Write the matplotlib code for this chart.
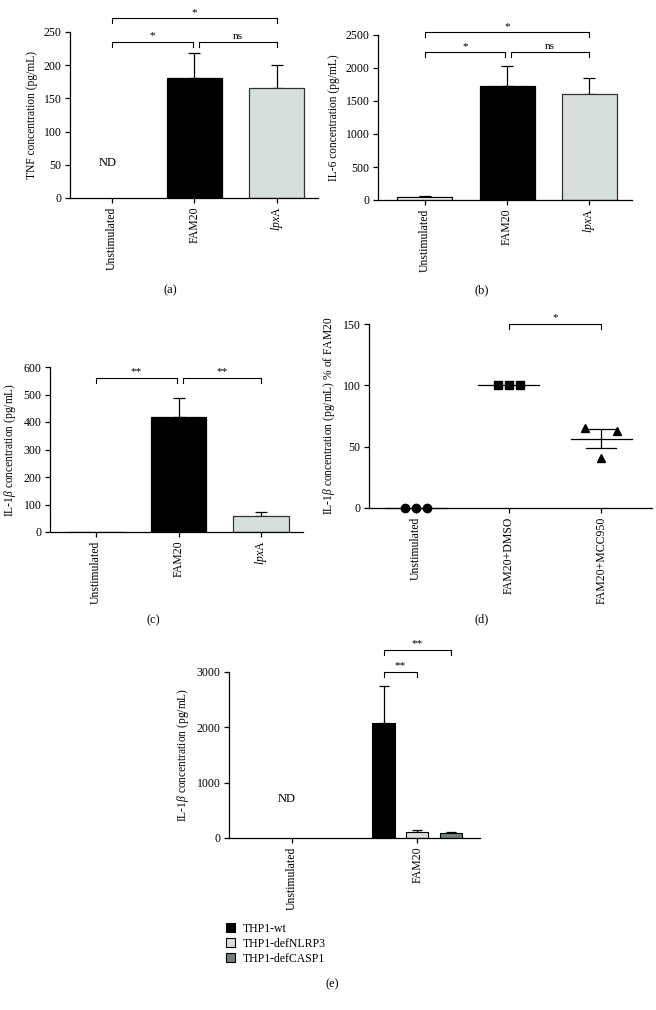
import matplotlib
matplotlib.use("Agg")
import matplotlib.pyplot as plt
from matplotlib.patches import Patch
import numpy as np

plt.rcParams['font.family'] = ['Liberation Serif', 'DejaVu Serif']
plt.rcParams['mathtext.fontset'] = 'custom'
plt.rcParams['mathtext.rm'] = 'Liberation Serif'
plt.rcParams['mathtext.it'] = 'Liberation Serif:italic'
plt.rcParams['font.size'] = 8.5
plt.rcParams['axes.linewidth'] = 0.9
plt.rcParams['xtick.major.width'] = 0.9
plt.rcParams['ytick.major.width'] = 0.9
plt.rcParams['xtick.major.size'] = 3.5
plt.rcParams['ytick.major.size'] = 3.5
plt.rcParams['xtick.major.pad'] = 2.5
plt.rcParams['ytick.major.pad'] = 2.5

# ---------------- data ----------------
cats_abc = ['Unstimulated', 'FAM20', r'$\mathit{lpx}$A']
tnf_mean = [0, 180, 165]
tnf_err = [0, 39, 36]
il6_mean = [50, 1730, 1610]
il6_err = [5, 305, 240]
il1b_mean = [1, 420, 60]
il1b_err = [0, 67, 13]

cats_d = ['Unstimulated', 'FAM20+DMSO', 'FAM20+MCC950']
d_unstim = [0, 0, 0]
d_dmso = [100, 100, 100]
d_mcc = [65, 63, 41]

cats_e = ['Unstimulated', 'FAM20']
e_series = ['THP1-wt', 'THP1-defNLRP3', 'THP1-defCASP1']
e_wt = [0, 2070]
e_wt_err = [0, 670]
e_nlrp3 = [0, 110]
e_nlrp3_err = [0, 40]
e_casp1 = [0, 90]
e_casp1_err = [0, 15]

BLACK = '#000000'
LIGHT = '#d6dfdc'
DARK = '#717f7a'

TICK_FS = 8.5
LABEL_FS = 8.3
W, H = 656, 1010
fig = plt.figure(figsize=(W / 100, H / 100), dpi=100)


def add_ax(l, r, t, b):
    ax = fig.add_axes([l / W, 1 - b / H, (r - l) / W, (b - t) / H])
    ax.spines['top'].set_visible(False)
    ax.spines['right'].set_visible(False)
    ax.tick_params(labelsize=TICK_FS)
    return ax


def bracket(ax, x1, x2, y, tick, text, fs=8):
    ax.plot([x1, x1, x2, x2], [y - tick, y, y, y - tick], color='black', lw=0.8,
            clip_on=False)
    ax.text((x1 + x2) / 2, y + tick * 0.3, text, ha='center', va='bottom',
            fontsize=fs, clip_on=False)


def bars3(ax, mean, err, colors, edges, width=0.67):
    x = np.arange(len(mean))
    for i in range(len(mean)):
        if mean[i] is None:
            continue
        if err[i] > 0:
            ax.errorbar(x[i], mean[i], yerr=[[0], [err[i]]], fmt='none',
                        ecolor='black', elinewidth=0.9, capsize=4.5, capthick=0.9,
                        zorder=1)
        ax.bar(x[i], mean[i], width=width, color=colors[i], edgecolor=edges[i],
               linewidth=0.9, zorder=2)
    return x


def style_cat(ax, labels):
    ax.set_xticks(np.arange(len(labels)))
    ax.set_xticklabels(labels, rotation=90, fontsize=TICK_FS)


# ---------------- (a) ----------------
ax = add_ax(70, 318, 32, 198)
bars3(ax, [None, tnf_mean[1], tnf_mean[2]], tnf_err, ['white', BLACK, LIGHT],
      ['black', 'black', '#333333'])
ax.set_xlim(-0.51, 2.5)
ax.set_ylim(0, 250)
ax.set_yticks([0, 50, 100, 150, 200, 250])
style_cat(ax, cats_abc)
ax.set_ylabel('TNF concentration (pg/mL)', fontsize=LABEL_FS)
ax.text(-0.05, 52, 'ND', ha='center', va='center', fontsize=9)
bracket(ax, 0, 0.98, 235, 7, '*')
bracket(ax, 1.05, 2, 235, 7, 'ns')
bracket(ax, 0, 2, 271, 7, '*')
fig.text(170 / W, 1 - 290 / H, '(a)', ha='center', va='center', fontsize=9)

# ---------------- (b) ----------------
ax = add_ax(378, 632, 35, 200)
bars3(ax, il6_mean, il6_err, ['white', BLACK, LIGHT], ['black', 'black', '#333333'])
ax.set_xlim(-0.57, 2.52)
ax.set_ylim(0, 2500)
ax.set_yticks([0, 500, 1000, 1500, 2000, 2500])
style_cat(ax, cats_abc)
ax.set_ylabel('IL-6 concentration (pg/mL)', fontsize=LABEL_FS)
bracket(ax, 0, 0.98, 2242, 70, '*')
bracket(ax, 1.05, 2, 2242, 70, 'ns')
bracket(ax, 0, 2, 2545, 70, '*')
fig.text(482 / W, 1 - 290 / H, '(b)', ha='center', va='center', fontsize=9)

# ---------------- (c) ----------------
ax = add_ax(50, 303, 367, 532)
bars3(ax, il1b_mean, il1b_err, ['white', BLACK, LIGHT], ['black', 'black', '#333333'])
ax.set_xlim(-0.56, 2.51)
ax.set_ylim(0, 600)
ax.set_yticks([0, 100, 200, 300, 400, 500, 600])
style_cat(ax, cats_abc)
ax.set_ylabel(r'IL-1$\mathit{\beta}$ concentration (pg/mL)', fontsize=LABEL_FS)
bracket(ax, 0, 0.98, 560, 17, '**')
bracket(ax, 1.05, 2, 560, 17, '**')
fig.text(153 / W, 1 - 620 / H, '(c)', ha='center', va='center', fontsize=9)

# ---------------- (d) ----------------
ax = add_ax(369, 652, 324, 508)
groups = [d_unstim, d_dmso, d_mcc]
markers = ['o', 's', '^']
offs = np.array([-0.12, 0.0, 0.12])
for i, (vals, m) in enumerate(zip(groups, markers)):
    vals = np.array(vals, dtype=float)
    mean = vals.mean()
    sem = vals.std(ddof=1) / np.sqrt(len(vals))
    ax.plot([i - 0.33, i + 0.33], [mean, mean], color='black', lw=0.9, zorder=2,
            clip_on=False)
    if sem > 0:
        ax.plot([i, i], [mean - sem, mean + sem], color='black', lw=0.9, zorder=2)
        for yy in (mean - sem, mean + sem):
            ax.plot([i - 0.16, i + 0.16], [yy, yy], color='black', lw=0.9, zorder=2)
    if i == 2:
        xs = i + np.array([-0.17, 0.17, 0.0])
    else:
        xs = i + offs
    ax.plot(xs, vals, linestyle='none', marker=m, color='black', markersize=6,
            zorder=3, clip_on=False)
ax.set_xlim(-0.51, 2.55)
ax.set_ylim(0, 150)
ax.set_yticks([0, 50, 100, 150])
style_cat(ax, cats_d)
ax.set_ylabel(r'IL-1$\mathit{\beta}$ concentration (pg/mL) % of FAM20', fontsize=LABEL_FS)
bracket(ax, 1, 2, 150, 4, '*')
fig.text(482 / W, 1 - 619 / H, '(d)', ha='center', va='center', fontsize=9)

# ---------------- (e) ----------------
ax = add_ax(229, 480, 672, 838)
xg = np.arange(len(cats_e))
bw = 0.178
sp = 0.268
for k, (vals, errs, col) in enumerate(zip([e_wt, e_nlrp3, e_casp1],
                                          [e_wt_err, e_nlrp3_err, e_casp1_err],
                                          [BLACK, LIGHT, DARK])):
    xs = xg + (k - 1) * sp
    for j in range(len(xg)):
        if vals[j] <= 0:
            continue
        ax.errorbar(xs[j], vals[j], yerr=[[0], [errs[j]]], fmt='none', ecolor='black',
                    elinewidth=0.9, capsize=3.5, capthick=0.9, zorder=1)
        ax.bar(xs[j], vals[j], width=bw, color=col, edgecolor='black', linewidth=0.8,
               zorder=2)
ax.set_xlim(-0.5, 1.5)
ax.set_ylim(0, 3000)
ax.set_yticks([0, 1000, 2000, 3000])
style_cat(ax, cats_e)
ax.set_ylabel(r'IL-1$\mathit{\beta}$ concentration (pg/mL)', fontsize=LABEL_FS)
ax.text(-0.04, 700, 'ND', ha='center', va='center', fontsize=9)
bracket(ax, 1 - sp, 1.0, 3000, 90, '**')
bracket(ax, 1 - sp, 1 + sp, 3400, 90, '**')
handles = [Patch(facecolor=c, edgecolor='black', linewidth=0.8) for c in [BLACK, LIGHT, DARK]]
fig.legend(handles, e_series, loc='upper left', bbox_to_anchor=(226 / W, 1 - 923 / H),
           frameon=False, fontsize=8.5, handlelength=0.8, handleheight=0.8,
           handletextpad=0.6, labelspacing=0.25, borderpad=0, borderaxespad=0)
fig.text(332 / W, 1 - 984 / H, '(e)', ha='center', va='center', fontsize=9)

fig.savefig('out.png', dpi=100)
